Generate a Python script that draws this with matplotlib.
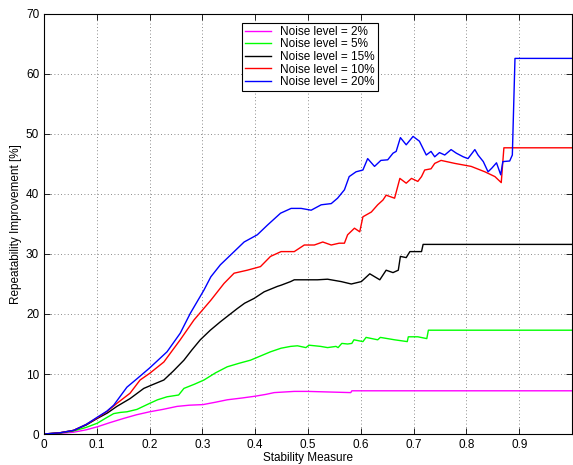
import matplotlib.pyplot as plt
from matplotlib.ticker import FormatStrFormatter

plt.rcParams['font.family'] = ['Liberation Sans', 'DejaVu Sans']

# Noise level = 2%
x_2 = [0, 0.03, 0.056, 0.08, 0.101, 0.125, 0.151, 0.175, 0.2, 0.225, 0.252, 0.275, 0.301, 0.325,
       0.347, 0.375, 0.4, 0.42, 0.436, 0.455, 0.474, 0.5, 0.54, 0.581, 0.583, 1.0]
y_2 = [0, 0.1, 0.3, 0.7, 1.2, 1.9, 2.6, 3.2, 3.7, 4.1, 4.6, 4.8, 4.9, 5.3,
       5.7, 6.0, 6.3, 6.6, 6.9, 7.0, 7.1, 7.1, 7.0, 6.9, 7.2, 7.2]

# Noise level = 5%
x_5 = [0, 0.03, 0.056, 0.08, 0.101, 0.118, 0.132, 0.145, 0.157, 0.176, 0.2, 0.215, 0.233, 0.255,
       0.265, 0.285, 0.303, 0.325, 0.347, 0.37, 0.391, 0.41, 0.429, 0.449, 0.467, 0.48, 0.496,
       0.502, 0.524, 0.537, 0.553, 0.557, 0.564, 0.575, 0.583, 0.587, 0.604, 0.61, 0.632, 0.637,
       0.664, 0.688, 0.69, 0.708, 0.725, 0.728, 1.0]
y_5 = [0, 0.15, 0.5, 1.1, 1.8, 2.7, 3.4, 3.6, 3.7, 4.1, 5.1, 5.7, 6.2, 6.5,
       7.6, 8.3, 9.0, 10.2, 11.2, 11.8, 12.3, 13.0, 13.7, 14.3, 14.6, 14.7, 14.4,
       14.8, 14.6, 14.4, 14.6, 14.4, 15.1, 15.0, 15.1, 15.7, 15.4, 16.1, 15.7, 16.1,
       15.7, 15.4, 16.2, 16.2, 15.9, 17.3, 17.3]

# Noise level = 15%
x_15 = [0, 0.03, 0.056, 0.08, 0.101, 0.12, 0.138, 0.163, 0.189, 0.205, 0.227, 0.245, 0.265, 0.28,
        0.296, 0.315, 0.334, 0.35, 0.366, 0.38, 0.398, 0.417, 0.442, 0.449, 0.467, 0.474, 0.499,
        0.518, 0.537, 0.563, 0.582, 0.601, 0.617, 0.636, 0.648, 0.661, 0.671, 0.675, 0.686,
        0.693, 0.715, 0.718, 1.0]
y_15 = [0, 0.2, 0.6, 1.5, 2.6, 3.5, 4.6, 5.9, 7.6, 8.2, 9.0, 10.5, 12.3, 14.0,
        15.7, 17.3, 18.7, 19.8, 20.9, 21.8, 22.6, 23.7, 24.6, 24.8, 25.4, 25.7, 25.7,
        25.7, 25.8, 25.4, 25.0, 25.4, 26.7, 25.7, 27.3, 26.9, 27.3, 29.6, 29.4,
        30.4, 30.4, 31.6, 31.6]

# Noise level = 10%
x_10 = [0, 0.03, 0.056, 0.08, 0.101, 0.12, 0.138, 0.163, 0.182, 0.2, 0.227, 0.258, 0.284, 0.316,
        0.341, 0.36, 0.385, 0.41, 0.429, 0.449, 0.474, 0.493, 0.512, 0.528, 0.544, 0.559, 0.569,
        0.575, 0.588, 0.598, 0.604, 0.62, 0.632, 0.642, 0.648, 0.664, 0.674, 0.686, 0.696, 0.708,
        0.715, 0.721, 0.733, 0.74, 0.752, 0.778, 0.809, 0.835, 0.854, 0.866, 0.871, 1.0]
y_10 = [0, 0.2, 0.6, 1.6, 2.7, 3.8, 5.1, 6.8, 9.0, 10.1, 12.0, 15.7, 19.0, 22.3,
        25.1, 26.8, 27.3, 27.9, 29.6, 30.4, 30.4, 31.5, 31.5, 32.0, 31.5, 31.8, 31.8,
        33.2, 34.3, 33.7, 36.2, 37.0, 38.2, 39.0, 39.8, 39.3, 42.6, 41.8, 42.6, 42.1,
        42.9, 44.0, 44.2, 45.1, 45.6, 45.1, 44.6, 43.7, 42.9, 41.9, 47.7, 47.7]

# Noise level = 20%
x_20 = [0, 0.03, 0.056, 0.08, 0.101, 0.119, 0.132, 0.157, 0.176, 0.2, 0.233, 0.258, 0.277, 0.303,
        0.316, 0.334, 0.353, 0.379, 0.404, 0.423, 0.448, 0.468, 0.487, 0.506, 0.525, 0.544, 0.556,
        0.569, 0.578, 0.591, 0.604, 0.613, 0.626, 0.638, 0.651, 0.661, 0.667, 0.675, 0.686, 0.699,
        0.711, 0.724, 0.733, 0.74, 0.749, 0.759, 0.771, 0.781, 0.794, 0.803, 0.816, 0.822, 0.832,
        0.841, 0.848, 0.857, 0.865, 0.869, 0.882, 0.887, 0.892, 1.0]
y_20 = [0, 0.2, 0.6, 1.6, 2.8, 3.8, 4.8, 7.8, 9.2, 11.0, 13.7, 16.8, 20.1, 24.0,
        26.2, 28.2, 29.8, 32.0, 33.2, 34.8, 36.8, 37.6, 37.6, 37.3, 38.2, 38.4, 39.3,
        40.7, 42.9, 43.7, 44.0, 45.9, 44.6, 45.6, 45.7, 46.8, 47.1, 49.4, 48.2, 49.6,
        48.8, 46.5, 47.1, 46.2, 46.9, 46.5, 47.4, 46.8, 46.2, 45.9, 47.4, 46.5, 45.4,
        43.7, 44.3, 45.2, 43.2, 45.4, 45.5, 46.5, 62.6, 62.6]

fig = plt.figure(figsize=(5.73, 4.65), dpi=100)
ax = fig.add_axes([44 / 573, 31 / 465, 528 / 573, 420 / 465])

ax.plot(x_2, y_2, color='#ff00ff', lw=1, label='Noise level = 2%')
ax.plot(x_5, y_5, color='#00ff00', lw=1, label='Noise level = 5%')
ax.plot(x_15, y_15, color='black', lw=1, label='Noise level = 15%')
ax.plot(x_10, y_10, color='#ff0000', lw=1, label='Noise level = 10%')
ax.plot(x_20, y_20, color='#0000ff', lw=1, label='Noise level = 20%')

ax.set_xlim(0, 1)
ax.set_ylim(0, 70)
ax.set_xticks([i / 10 for i in range(10)])
ax.set_yticks(range(0, 71, 10))
ax.xaxis.set_major_formatter(FormatStrFormatter('%g'))
ax.tick_params(direction='in', top=True, right=True, labelsize=8.5, length=4, width=0.6)
ax.grid(True, linestyle=(0, (1, 3)), color='#666666', linewidth=0.6)
for s in ax.spines.values():
    s.set_linewidth(0.8)

ax.set_xlabel('Stability Measure', fontsize=8.5, labelpad=1)
ax.set_ylabel('Repeatability Improvement [%]', fontsize=8.5, labelpad=3)

leg = ax.legend(loc='upper left', bbox_to_anchor=(0.364, 0.993), fontsize=8.5,
                fancybox=False, edgecolor='black', framealpha=1,
                handlelength=2.2, labelspacing=0.05, borderpad=0.25, handletextpad=0.8)
leg.get_frame().set_linewidth(0.8)

fig.savefig('out.png', dpi=100)
